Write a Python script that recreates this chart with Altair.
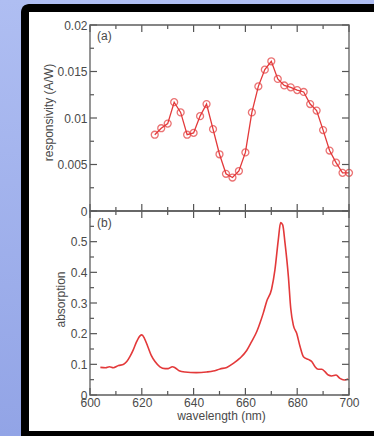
import altair as alt
import pandas as pd

# ---- data ----
resp_wl = [625.0, 627.5, 630.0, 632.5, 635.0, 637.5, 640.0, 642.5, 645.0, 647.5,
           650.0, 652.5, 655.0, 657.5, 660.0, 662.5, 665.0, 667.5, 670.0, 672.5,
           675.0, 677.5, 680.0, 682.5, 685.0, 687.5, 690.0, 692.5, 695.0, 697.5, 700.0]
resp_val = [0.0082, 0.0089, 0.0094, 0.0117, 0.0106, 0.0082, 0.0084, 0.0102, 0.0115, 0.0088,
            0.0061, 0.0040, 0.0036, 0.0043, 0.0063, 0.0106, 0.0134, 0.0152, 0.0161, 0.0142,
            0.0135, 0.0133, 0.0130, 0.0128, 0.0115, 0.0108, 0.0087, 0.0065, 0.0052, 0.0041, 0.0041]

abs_wl = [604.0, 606.0, 607.5, 609.0, 611.0, 613.0, 614.2, 615.4, 616.7, 618.0,
          619.3, 620.0, 621.0, 622.3, 623.6, 625.1, 627.0, 629.0, 630.2, 631.8,
          632.8, 634.4, 636.7, 641.0, 645.0, 647.6, 650.2, 652.8, 655.3, 657.9,
          660.5, 662.4, 664.4, 665.6, 666.9, 668.2, 670.1, 671.4, 672.7, 673.6,
          674.4, 675.3, 676.6, 677.5, 678.5, 679.8, 681.1, 682.4, 684.3, 685.6,
          686.9, 688.1, 689.5, 690.7, 692.0, 693.3, 695.0, 696.5, 698.1, 699.7]
abs_val = [0.090, 0.089, 0.092, 0.089, 0.096, 0.100, 0.109, 0.125, 0.147, 0.174,
           0.193, 0.196, 0.185, 0.158, 0.130, 0.109, 0.092, 0.086, 0.086, 0.092,
           0.089, 0.079, 0.075, 0.073, 0.075, 0.078, 0.085, 0.090, 0.103, 0.120,
           0.145, 0.174, 0.207, 0.234, 0.267, 0.305, 0.345, 0.408, 0.506, 0.562,
           0.555, 0.495, 0.386, 0.283, 0.228, 0.201, 0.158, 0.125, 0.116, 0.109,
           0.092, 0.084, 0.084, 0.076, 0.065, 0.062, 0.065, 0.054, 0.049, 0.052]

x_major = [600, 620, 640, 660, 680, 700]
x_minor = [610, 630, 650, 670, 690]
top_major = [0, 0.005, 0.01, 0.015, 0.02]
top_minor = [0.0025, 0.0075, 0.0125, 0.0175]
bot_labels = [0, 0.1, 0.2, 0.3, 0.4, 0.5]
bot_major = [0, 0.1, 0.2, 0.3, 0.4, 0.5, 0.6]
bot_minor = [0.05, 0.15, 0.25, 0.35, 0.45, 0.55]

# ---- style ----
FONT = "Liberation Sans"
RED = "#e3393a"
TXT = "#4a4a4a"
TICK = "#555555"
W, H1, H2 = 259, 186, 184
MAJ, MIN = 7, 4

xscale = alt.Scale(domain=[600, 700], nice=False, zero=False)
ys1 = alt.Scale(domain=[0, 0.02], nice=False)
ys2 = alt.Scale(domain=[0, 0.6], nice=False)
one = alt.Data(values=[{"k": 0}])

ax1 = alt.Axis(values=top_major, format="~g", title="responsivity (A/W)", zindex=1,
               titleX=-42, titleY=87, titleAngle=270, titleBaseline="middle")
ax2 = alt.Axis(values=bot_labels, format="~g", title="absorption", zindex=1,
               titleX=-30, titleY=88, titleAngle=270, titleBaseline="middle")
axx = alt.Axis(values=x_major, format="d", title="wavelength (nm)", labelFlush=False,
               zindex=1, labelPadding=2, titleX=131, titleY=20, titleBaseline="middle")


def xticks(vals, y0, y1, ax):
    return alt.Chart(alt.Data(values=[{"t": v} for v in vals])).mark_rule(
        color=TICK, strokeWidth=1.2).encode(
        x=alt.X("t:Q", scale=xscale, axis=ax),
        y=alt.value(y0), y2=alt.value(y1))


def yticks(vals, ys, x0, x1, ax):
    return alt.Chart(alt.Data(values=[{"t": v} for v in vals])).mark_rule(
        color=TICK, strokeWidth=1.2).encode(
        y=alt.Y("t:Q", scale=ys, axis=ax),
        x=alt.value(x0), x2=alt.value(x1))


def frame(h):
    return alt.Chart(one).mark_rect(fill="transparent", stroke="#5e5e5e", strokeWidth=1.3).encode(
        x=alt.value(0), x2=alt.value(W), y=alt.value(0), y2=alt.value(h))


def panel_ticks(h, ys, ymaj, ymin, xax, yax):
    return [
        xticks(x_major, 0, MAJ, xax), xticks(x_minor, 0, MIN, xax),
        xticks(x_major, h, h - MAJ, xax), xticks(x_minor, h, h - MIN, xax),
        yticks(ymaj, ys, 0, MAJ, yax), yticks(ymin, ys, 0, MIN, yax),
        yticks(ymaj, ys, W, W - MAJ, yax), yticks(ymin, ys, W, W - MIN, yax),
    ]


grad = alt.LinearGradient(
    gradient="linear", x1=0, y1=0, x2=0, y2=1,
    stops=[alt.GradientStop(color="#afbef2", offset=0),
           alt.GradientStop(color="#92a4e6", offset=1)])

bg = alt.Chart(one).mark_rect(color=grad).encode(
    x=alt.value(-90), x2=alt.value(284), y=alt.value(-25), y2=alt.value(411))
blackframe = alt.Chart(one).mark_rect(color="#000000", cornerRadiusTopLeft=8).encode(
    x=alt.value(-69), x2=alt.value(284), y=alt.value(-21), y2=alt.value(411))
white = alt.Chart(one).mark_rect(color="#ffffff").encode(
    x=alt.value(-61), x2=alt.value(284), y=alt.value(-13), y2=alt.value(406))

# ---- top panel ----
df1 = pd.DataFrame({"wl": resp_wl, "v": resp_val})
base1 = alt.Chart(df1).encode(
    x=alt.X("wl:Q", scale=xscale, axis=None),
    y=alt.Y("v:Q", scale=ys1, axis=ax1))
line1 = base1.mark_line(color=RED, strokeWidth=1.3)
pts1 = base1.mark_point(shape="circle", filled=False, color=RED, size=48, strokeWidth=1.3)
lab_a = alt.Chart(one).mark_text(text="(a)", align="left", baseline="middle",
                                 fontSize=12, font=FONT, color=TXT).encode(
    x=alt.value(7), y=alt.value(11))

top = alt.layer(bg, blackframe, white, line1, pts1, lab_a,
                *panel_ticks(H1, ys1, top_major, top_minor, None, ax1), frame(H1)
                ).properties(width=W, height=H1)

# ---- bottom panel ----
df2 = pd.DataFrame({"wl": abs_wl, "a": abs_val})
line2 = alt.Chart(df2).mark_line(color=RED, strokeWidth=1.6, interpolate="monotone").encode(
    x=alt.X("wl:Q", scale=xscale, axis=axx),
    y=alt.Y("a:Q", scale=ys2, axis=ax2))
lab_b = alt.Chart(one).mark_text(text="(b)", align="left", baseline="middle",
                                 fontSize=12, font=FONT, color=TXT).encode(
    x=alt.value(7), y=alt.value(12))

bottom = alt.layer(line2, lab_b, *panel_ticks(H2, ys2, bot_major, bot_minor, axx, ax2), frame(H2)
                   ).properties(width=W, height=H2)

chart = alt.vconcat(top, bottom, spacing=0, bounds="flush").properties(
    padding=0, background="#a8b8ee"
).configure_axis(
    labelFont=FONT, titleFont=FONT, labelFontSize=12, titleFontSize=12,
    labelColor=TXT, titleColor=TXT, titleFontWeight="normal",
    ticks=False, tickSize=0, domain=False, grid=False, zindex=1, labelPadding=3
).configure_view(strokeWidth=0)

chart.save("out.html", embed_options={"renderer": "svg", "actions": False})
